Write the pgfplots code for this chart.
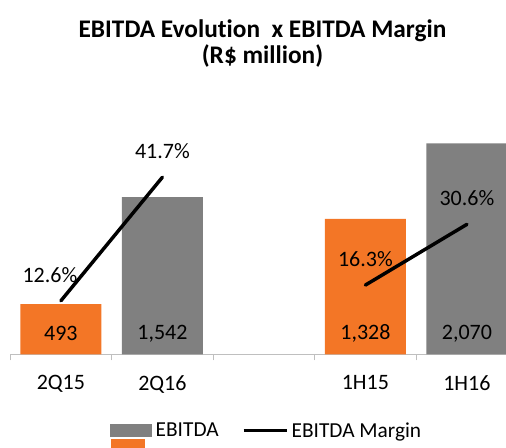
\documentclass[border=0pt]{standalone}
\usepackage{pgfplots}
\pgfplotsset{compat=1.18}
\usepackage{fontspec}
\setmainfont{Carlito}[Ligatures=NoCommon]
\definecolor{barorange}{RGB}{243,118,38}
\definecolor{bargray}{RGB}{128,128,128}
\definecolor{axgray}{RGB}{191,191,191}
\begin{document}
\begin{tikzpicture}[x=0.75pt,y=0.75pt]
\useasboundingbox (0,0) rectangle (506,447);
% title
\node[align=center, font=\fontsize{19pt}{20pt}\selectfont\bfseries, anchor=base] at (262.5,383) {EBITDA Evolution\ \ x EBITDA Margin\\(R\$ million)};
\begin{axis}[
  name=main,
  at={(10,91)}, anchor=south west,
  scale only axis, width=380.625pt, height=191.06pt,
  xmin=-0.5, xmax=4.5, ymin=0, ymax=2500,
  axis y line=none, axis x line*=bottom,
  x axis line style={draw=axgray, line width=0.75pt},
  xtick={0,1,2,3,4}, xticklabels={2Q15,2Q16,,1H15,1H16},
  major x tick style={draw=none},
  minor xtick={-0.5,0.5,1.5,2.5,3.5},
  minor tick length=4.5pt, tick align=outside,
  minor x tick style={draw=axgray, line width=0.75pt},
  xticklabel style={font=\fontsize{16.5pt}{19pt}\selectfont, yshift=-8pt},
  /pgf/number format/assume math mode=true,
  /pgf/number format/1000 sep={,},
  ybar, bar width=60.75pt, bar shift=0pt,
  clip=false,
  legend columns=-1,
  legend style={draw=none, at={(0.197,-0.3003)}, anchor=west, inner sep=0pt,
    font=\fontsize{16pt}{19pt}\selectfont,
    nodes={inner sep=2.5pt},
    /tikz/every even column/.append style={column sep=15pt}},
  nodes near coords,
  visualization depends on={y \as \rawy},
  every node near coord/.append style={anchor=center, font=\fontsize{16.5pt}{19pt}\selectfont, yshift={15.75pt-\rawy*0.076425pt}},
]
\addplot[fill=bargray, draw=none,
  legend image code/.code={
    \fill[barorange, overlay] (0.75pt,-6.375pt) rectangle (26.25pt,-13.5pt);
    \fill[bargray] (0pt,-4.875pt) rectangle (31.5pt,4.875pt);
  }] coordinates {(1,1542) (4,2070)};
\addlegendentry{EBITDA}
\addplot[fill=barorange, draw=none, forget plot] coordinates {(0,493) (3,1328)};
\addlegendimage{black, line width=2.5pt, legend image code/.code={\draw[black, line width=2.5pt] (0pt,0pt) -- (32.25pt,0pt);}}
\addlegendentry{EBITDA Margin}
\end{axis}
\begin{axis}[
  at={(main.south west)}, anchor=south west,
  scale only axis, width=380.625pt, height=191.06pt,
  xmin=-0.5, xmax=4.5, ymin=0, ymax=60,
  hide axis,
  clip=false,
  /pgf/number format/assume math mode=true,
  nodes near coords={\pgfmathprintnumber[fixed,fixed zerofill,precision=1]{\pgfplotspointmeta}\%},
  visualization depends on={\thisrow{dx} \as \dx},
  every node near coord/.append style={anchor=center, font=\fontsize{16.5pt}{19pt}\selectfont, yshift=19.5pt, xshift=\dx pt},
]
\addplot[black, line width=2.6pt, line cap=round, mark=none]
  table[x=x,y=y] {
x y dx
0 12.6 -8.25
1 41.7 0
};
\addplot[black, line width=2.6pt, line cap=round, mark=none]
  table[x=x,y=y] {
x y dx
3 16.3 0
4 30.6 0
};
\end{axis}
\end{tikzpicture}
\end{document}
